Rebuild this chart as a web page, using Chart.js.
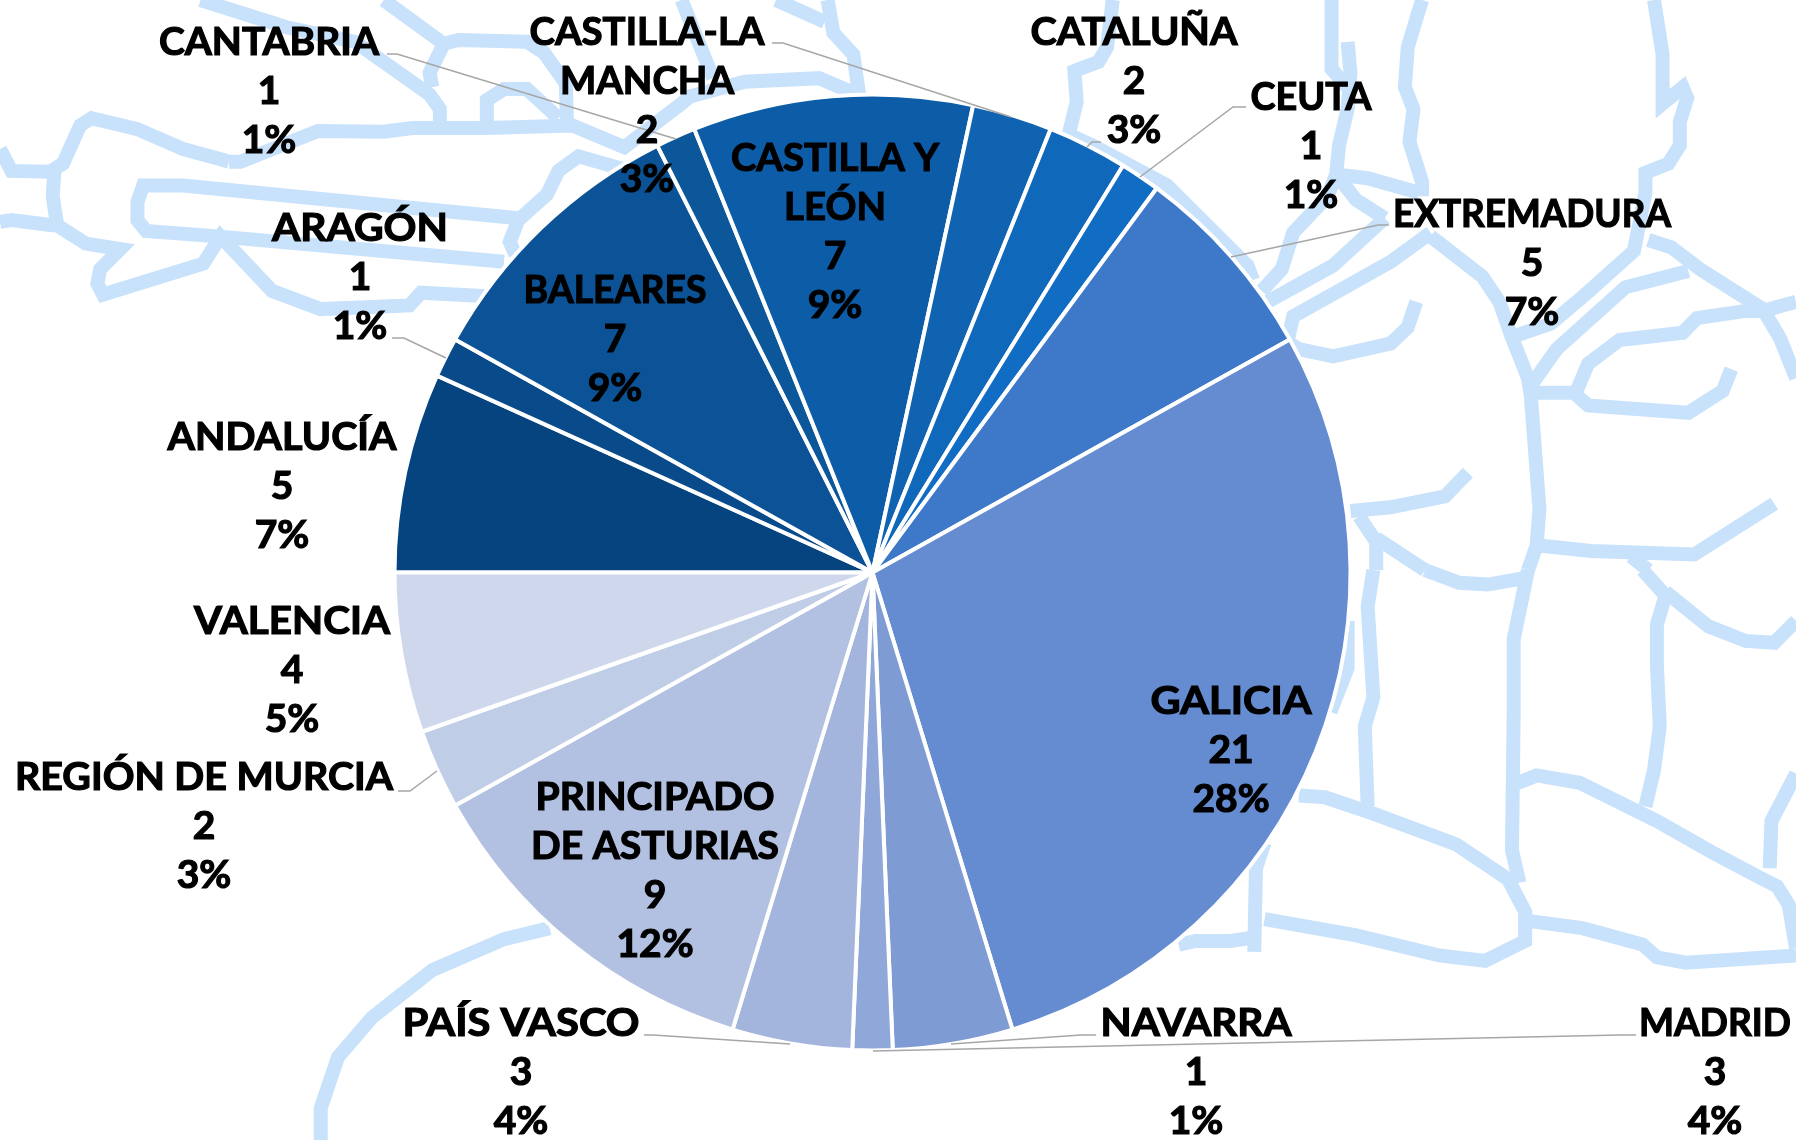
<!DOCTYPE html>
<html lang="es">
<head>
<meta charset="utf-8">
<title>Comunidades</title>
<script src="https://cdn.jsdelivr.net/npm/chart.js@4/dist/chart.umd.min.js"></script>
<style>
    html, body { margin: 0; padding: 0; background: #fff; }
    #chart-wrap { width: 1796px; height: 1140px; }
</style>
</head>
<body>
<div id="chart-wrap"><canvas id="regionsChart" width="1796" height="1140"></canvas></div>
<script>
// --- DATA ---
const regions = ['ANDALUCÍA', 'ARAGÓN', 'BALEARES', 'CANTABRIA', 'CASTILLA Y LEÓN', 'CASTILLA-LA MANCHA',
    'CATALUÑA', 'CEUTA', 'EXTREMADURA', 'GALICIA', 'MADRID', 'NAVARRA', 'PAÍS VASCO',
    'PRINCIPADO DE ASTURIAS', 'REGIÓN DE MURCIA', 'VALENCIA'];
const counts = [5, 1, 7, 1, 7, 2, 2, 1, 5, 21, 3, 1, 3, 9, 2, 4];
const sliceColors = ['#064480', '#094A8B', '#0B5396', '#0C5799', '#0D5CA8', '#0F63B0', '#1068BA', '#116DC4',
    '#3D79C8', '#658BD0', '#7E9BD3', '#8FA8D9', '#A3B5DD', '#B2C1E2', '#C0CDE7', '#CED7EB'];

// --- LABEL LAYOUT ---
// name split into lines, centre x, y of the first line, width of the first line
const labelLayout = [
    { lines: ['ANDALUCÍA'], x: 282, y: 437, w: 229 },
    { lines: ['ARAGÓN'], x: 360, y: 228, w: 176 },
    { lines: ['BALEARES'], x: 615, y: 290, w: 183 },
    { lines: ['CANTABRIA'], x: 269, y: 42, w: 220 },
    { lines: ['CASTILLA Y', 'LEÓN'], x: 835, y: 158, w: 208 },
    { lines: ['CASTILLA-LA', 'MANCHA'], x: 647, y: 32, w: 235 },
    { lines: ['CATALUÑA'], x: 1134, y: 32, w: 207 },
    { lines: ['CEUTA'], x: 1311, y: 97, w: 121 },
    { lines: ['EXTREMADURA'], x: 1532, y: 214, w: 278 },
    { lines: ['GALICIA'], x: 1231, y: 701, w: 161 },
    { lines: ['MADRID'], x: 1715, y: 1023, w: 152 },
    { lines: ['NAVARRA'], x: 1196, y: 1023, w: 191 },
    { lines: ['PAÍS VASCO'], x: 521, y: 1023, w: 237 },
    { lines: ['PRINCIPADO', 'DE ASTURIAS'], x: 655, y: 797, w: 239 },
    { lines: ['REGIÓN DE MURCIA'], x: 204, y: 777, w: 378 },
    { lines: ['VALENCIA'], x: 292, y: 621, w: 196 }
];

// Leader lines (only the labels that sit away from their slice)
const leaderLines = [
    [387, 54, 397, 54, 676, 139],
    [772, 43, 783, 43, 1011, 117],
    [1101, 142, 1092, 142, 1087, 147],
    [1246, 107, 1233, 107, 1140, 177],
    [1389, 225, 1378, 225, 1231, 257],
    [392, 338, 404, 338, 446, 358],
    [398, 791, 410, 791, 437, 771],
    [644, 1035, 653, 1035, 790, 1044],
    [1096, 1035, 1081, 1035, 951, 1044],
    [1636, 1035, 1620, 1035, 873, 1051]
];

// --- BACKGROUND MAP ---
// Decoration behind the pie, traced per quadrant of the picture
const mapQuadrants = [
    { ox: 0, oy: 0, lines: [
        [350, 0, 500, 75, 620, 115, 750, 260, 768, 300, 768, 340],
        [670, 0, 770, 115],
        [755, 240, 750, 200, 775, 120, 800, 110, 920, 115, 950, 145, 988, 230, 990, 345],
        [400, 445, 420, 445, 555, 360, 670, 362, 720, 352, 850, 352, 1000, 345, 1090, 405, 1190, 285, 1205, 265, 1300, 225, 1430, 215, 1490, 255],
        [400, 445, 390, 440, 320, 410, 240, 355, 160, 325, 140, 345, 110, 450, 90, 470],
        [850, 335, 850, 275, 880, 245, 920, 245, 975, 325],
        [1190, 0, 1245, 215],
        [1355, 0, 1440, 60],
        [1445, 0, 1455, 90, 1490, 150, 1500, 260],
        [1100, 470, 1010, 430, 975, 470, 955, 535, 905, 605, 890, 665, 900, 700],
        [905, 600, 320, 510, 250, 510, 240, 555, 240, 605, 255, 635, 380, 650, 880, 720],
        [0, 410, 20, 470, 90, 472],
        [0, 610, 20, 605, 95, 620],
        [95, 470, 92, 540, 100, 620, 150, 670, 210, 685, 175, 740, 170, 780, 180, 810, 355, 725, 385, 650, 475, 800, 560, 850, 715, 840, 735, 805, 850, 815]
    ] },
    { ox: 898, oy: 0, lines: [
        [375, 0, 365, 130, 350, 170, 308, 195, 312, 280, 298, 370, 340, 400, 470, 510, 610, 730, 620, 770],
        [757, 0, 757, 190, 785, 240],
        [785, 115, 790, 200, 785, 300, 770, 400, 765, 480, 820, 490, 910, 530],
        [770, 490, 800, 550, 850, 600],
        [765, 480, 750, 540, 690, 640, 670, 740, 635, 800],
        [915, 0, 890, 130, 885, 240, 900, 300, 893, 390, 915, 500, 915, 540],
        [850, 600, 760, 730, 645, 830],
        [930, 640, 860, 720, 690, 870, 680, 940, 700, 960, 760, 980, 860, 945, 890, 900, 905, 830],
        [930, 650, 1020, 760, 1050, 830, 1070, 920, 1100, 1040, 1105, 1090, 1120, 1400, 1115, 1500, 1100, 1568],
        [1320, 0, 1335, 150, 1335, 285, 1370, 240, 1378, 270, 1365, 335, 1365, 400, 1345, 450, 1305, 475, 1305, 530, 1285, 690, 1200, 810, 1140, 890, 1075, 925],
        [1310, 660, 1350, 680, 1400, 740, 1510, 850, 1540, 930, 1568, 1040],
        [1380, 745, 1270, 790, 1150, 960, 1105, 1060],
        [1105, 1080, 1180, 1080, 1205, 1115, 1380, 1135, 1440, 1075, 1455, 1015],
        [1185, 1075, 1205, 1000, 1260, 935, 1370, 915, 1395, 875, 1480, 855, 1510, 855, 1568, 830],
        [995, 1300, 955, 1365, 860, 1395, 790, 1405],
        [805, 1420, 835, 1490, 835, 1568],
        [835, 1480, 920, 1568],
        [1120, 1500, 1210, 1515, 1390, 1525, 1530, 1385],
        [1280, 1530, 1310, 1568]
    ] },
    { ox: 0, oy: 570, lines: [
        [960, 985, 880, 1015, 755, 1100, 650, 1230, 590, 1340, 560, 1480, 560, 1568]
    ] },
    { ox: 898, oy: 570, lines: [
        [920, 0, 980, 35, 1030, 40, 1100, 20],
        [830, 0, 820, 100, 830, 350, 815, 430, 820, 650],
        [1100, 0, 1075, 190, 1075, 390, 1072, 770, 1085, 860],
        [1300, 0, 1340, 70, 1325, 150, 1325, 260, 1330, 430, 1320, 550, 1305, 650],
        [1340, 60, 1415, 155, 1480, 195, 1530, 200, 1568, 140],
        [1568, 560, 1525, 690, 1522, 820],
        [1075, 590, 1115, 565, 1190, 585, 1325, 690, 1420, 775, 1510, 850, 1535, 870, 1555, 920, 1568, 1040],
        [700, 620, 745, 625, 830, 670, 975, 755, 1065, 850, 1095, 940, 1095, 1020, 1025, 1075, 945, 1060, 800, 1005, 640, 960],
        [1100, 965, 1195, 985, 1300, 1030, 1325, 1065, 1375, 1080, 1568, 1060],
        [640, 750, 625, 820, 622, 1050],
        [490, 1030, 520, 1020, 580, 1020, 625, 1010],
        [785, 140, 785, 270, 755, 390]
    ] }
];

const total = counts.reduce((s, v) => s + v, 0);

const mapBackground = {
    id: 'mapBackground',
    beforeDatasetsDraw(chart) {
        const ctx = chart.ctx;
        ctx.save();
        ctx.strokeStyle = '#C9E2FB';
        ctx.lineWidth = 14;
        ctx.lineJoin = 'miter';
        mapQuadrants.forEach(q => {
            q.lines.forEach(pts => {
                ctx.beginPath();
                for (let i = 0; i < pts.length; i += 2) {
                    const x = q.ox + pts[i] / 1.746;
                    const y = q.oy + pts[i + 1] / 2.75;
                    if (i === 0) ctx.moveTo(x, y);
                    else ctx.lineTo(x, y);
                }
                ctx.stroke();
            });
        });
        ctx.restore();
    }
};

// fill + thin stroke to get the heavier weight, squeezed or widened horizontally
const drawLine = (ctx, line, x, y, scaleX) => {
    ctx.save();
    ctx.translate(x, y);
    ctx.scale(scaleX, 1);
    ctx.fillText(line, 0, 0);
    ctx.strokeText(line, 0, 0);
    ctx.restore();
};

const sliceLabels = {
    id: 'sliceLabels',
    afterDatasetsDraw(chart) {
        const ctx = chart.ctx;
        ctx.save();

        // Leader lines
        ctx.strokeStyle = '#A6A6A6';
        ctx.lineWidth = 1.5;
        leaderLines.forEach(pts => {
            ctx.beginPath();
            ctx.moveTo(pts[0], pts[1]);
            ctx.lineTo(pts[2], pts[3]);
            ctx.lineTo(pts[4], pts[5]);
            ctx.stroke();
        });

        // Labels: name, value, percent
        ctx.fillStyle = '#000';
        ctx.strokeStyle = '#000';
        ctx.lineWidth = 1.2;
        ctx.font = 'bold 39px Lato';
        ctx.textAlign = 'center';
        ctx.textBaseline = 'middle';
        labelLayout.forEach((label, i) => {
            const scaleX = label.w / ctx.measureText(label.lines[0]).width;
            const nameCount = label.lines.length;
            label.lines.forEach((line, n) => drawLine(ctx, line, label.x, label.y + n * 49.3, scaleX));
            drawLine(ctx, String(counts[i]), label.x, label.y + nameCount * 49.3, 1);
            drawLine(ctx, Math.round(counts[i] / total * 100) + '%', label.x, label.y + (nameCount + 1) * 49.3, 1);
        });
        ctx.restore();
    }
};

new Chart(document.getElementById('regionsChart').getContext('2d'), {
    type: 'pie',
    data: {
        labels: regions,
        datasets: [{
            data: counts,
            backgroundColor: sliceColors,
            borderColor: '#fff',
            borderWidth: 4
        }]
    },
    options: {
        responsive: false,
        animation: false,
        rotation: -90,
        radius: 478,
        layout: { padding: { left: 0, right: 51, top: 5, bottom: 0 } },
        plugins: { legend: { display: false }, tooltip: { enabled: false } }
    },
    plugins: [mapBackground, sliceLabels]
});
</script>
</body>
</html>
